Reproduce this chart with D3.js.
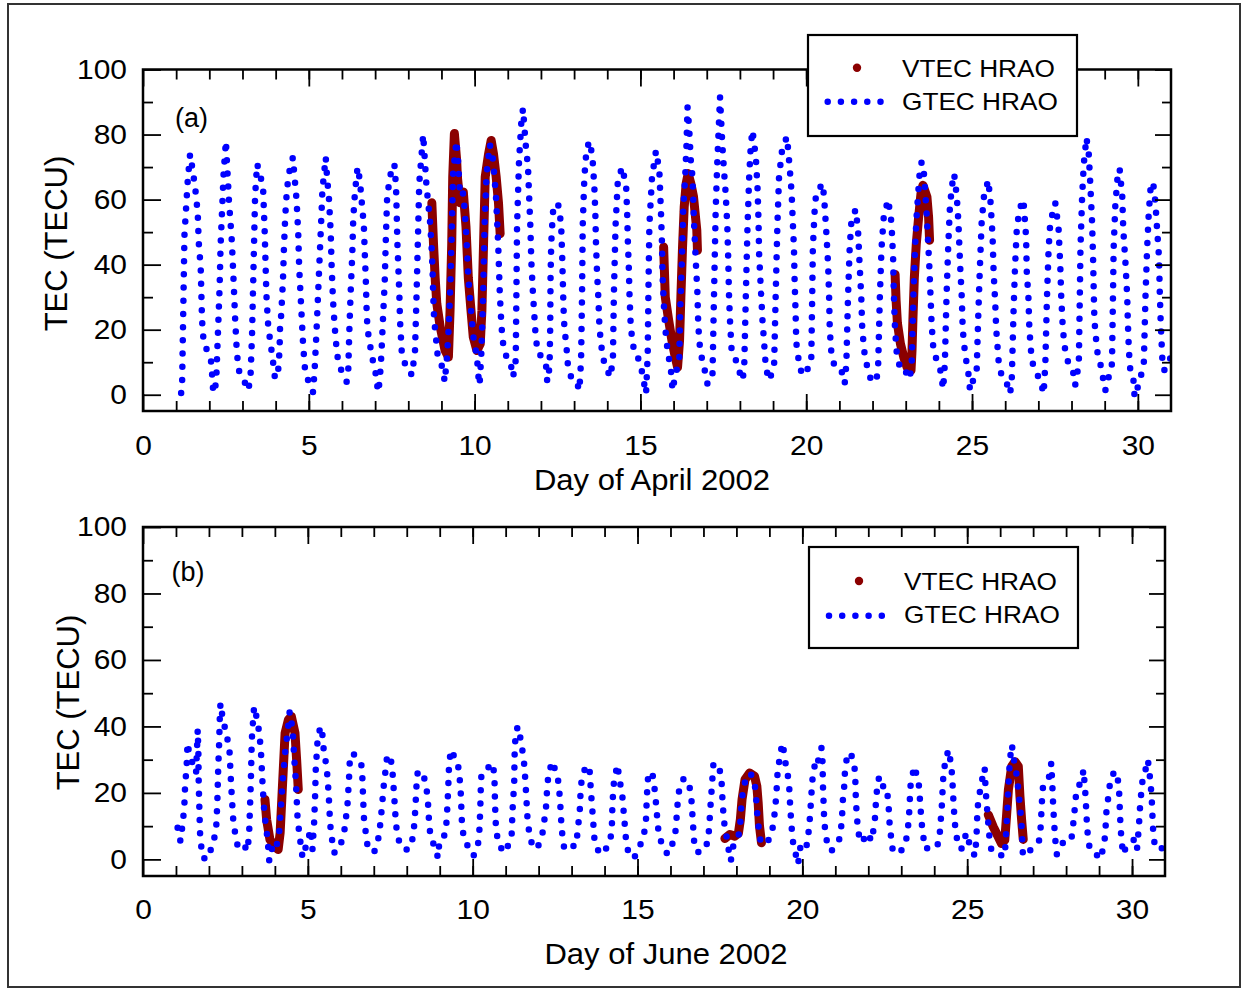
<!DOCTYPE html>
<html>
<head>
<meta charset="utf-8">
<script src="https://cdn.jsdelivr.net/npm/d3@7"></script>
<style>
  body { margin: 0; background: #fff; }
  svg text { font-family: "Liberation Sans", Arial, Helvetica, sans-serif; fill: #000; }
</style>
</head>
<body>
<div id="chart"></div>
<script>
// ---- data: [day, TEC] ----
var xMajor = [0, 5, 10, 15, 20, 25, 30];
var xMinor = d3.range(1, 31);
var yMajor = [0, 20, 40, 60, 80, 100];
var yMinor = [10, 30, 50, 70, 90];
var legendLabels = ["VTEC HRAO", "GTEC HRAO"];

var gtecApril = [
  [1.15,0.5],[1.18,4],[1.25,49],[1.35,66],[1.42,74],[1.5,69],[1.58,63],[1.65,56],[1.68,47],[1.74,39],[1.78,23],[1.83,16],[1.96,13],[2.06,10],[2.11,2],[2.16,0.5],
  [2.21,5],[2.26,19],[2.31,33],[2.34,46],[2.39,58],[2.43,68],[2.5,78],[2.53,72],[2.59,60],[2.68,47],[2.74,33],[2.78,23],[2.83,13],[2.89,7.5],[2.99,5.5],[3.06,4],[3.17,1.3],
  [3.24,5],[3.29,19],[3.35,47],[3.38,61],[3.44,71],[3.52,68],[3.62,64],[3.67,50],[3.72,31],[3.77,22],[3.84,16],[3.9,12],[3.94,8.5],[3.98,5],
  [4.07,6.5],[4.12,14],[4.13,20],[4.17,25],[4.22,35],[4.25,45],[4.29,55],[4.34,63],[4.4,68],[4.52,73],[4.57,67],[4.63,60],[4.68,50],[4.71,39],[4.76,29],[4.8,21],[4.83,15],[4.88,8.5],[4.98,4.4],[5.08,1.3],
  [5.13,0.8],[5.18,8.5],[5.23,19],[5.28,31],[5.33,43],[5.38,55],[5.41,63],[5.51,73],[5.55,67],[5.61,60],[5.66,50],[5.69,39],[5.73,29],[5.78,21],[5.83,15],[5.88,10.6],[5.98,7.5],[6.14,4],
  [6.19,7.5],[6.22,19],[6.26,31],[6.31,43],[6.34,54],[6.39,62],[6.47,70],[6.54,66],[6.59,60],[6.66,52],[6.69,43],[6.72,35],[6.74,27],[6.77,20],[6.84,16],[6.89,12],[6.99,8.5],[7.09,0.8],
  [7.14,4.4],[7.19,12.6],[7.24,24],[7.29,35],[7.32,47],[7.36,60],[7.44,67],[7.58,71],[7.63,64],[7.65,56],[7.67,47],[7.7,39],[7.73,31],[7.75,23],[7.8,13.6],[7.9,9.5],[8.0,9],[8.1,6],
  [8.2,12.6],[8.25,31],[8.3,52],[8.33,65],[8.45,80],[8.5,72],[8.55,64],[8.65,54],[8.7,46],[8.73,39],[8.75,31],[8.78,23],[8.83,18],[8.88,12.6],[8.95,11.6],[9.05,7],[9.1,4],
  [9.17,12],[9.22,21],[9.27,34],[9.31,50],[9.35,68],[9.45,78],[9.5,72],[9.56,61],[9.66,62],[9.74,51],[9.81,36],[9.89,26],[9.96,18],[10.07,11.6],[10.12,5],[10.15,3],
  [10.2,12],[10.25,28],[10.3,52],[10.36,68],[10.46,77],[10.56,72],[10.65,60],[10.71,46.5],[10.76,31],[10.81,21],[10.86,15.7],[10.96,11.6],[11.06,11],[11.16,5.4],
  [11.24,10.6],[11.26,31],[11.28,52],[11.34,72],[11.41,84],[11.46,88],[11.54,77],[11.61,70],[11.64,62],[11.68,52],[11.71,41],[11.76,31],[11.81,23],[11.84,18],[11.91,12.6],[12.01,12],[12.16,8.5],[12.19,4],
  [12.26,8.5],[12.28,21],[12.29,36],[12.31,46.5],[12.36,56],[12.46,59],[12.54,58],[12.61,52],[12.64,43],[12.66,35],[12.68,27],[12.71,20],[12.76,16],[12.81,9.5],[12.91,5.4],[13.06,4.4],[13.16,1.3],
  [13.21,10.6],[13.24,31],[13.26,52],[13.31,67],[13.38,76],[13.48,78],[13.56,72],[13.61,64],[13.64,56],[13.66,46.5],[13.69,38],[13.73,30],[13.76,22],[13.79,18],[13.86,11.6],[13.96,8.5],[14.09,5.4],
  [14.17,10.6],[14.2,31],[14.25,52],[14.32,66],[14.45,70],[14.57,64],[14.6,56],[14.62,47.5],[14.65,39],[14.67,31],[14.7,23],[14.74,18],[14.82,12.6],[14.92,11.6],[15.02,8.5],[15.17,0.3],
  [15.22,12.6],[15.24,31],[15.27,52],[15.35,67],[15.47,75],[15.57,69],[15.62,56],[15.65,46.5],[15.67,36],[15.72,25],[15.77,18],[15.82,13.6],[15.92,7.5],[15.97,1.3],
  [16.05,6],[16.17,10.6],[16.2,26],[16.25,41],[16.29,57],[16.35,67],[16.39,77],[16.42,88.5],[16.47,82],[16.52,72],[16.57,67],[16.62,52],[16.67,41],[16.72,31],[16.74,23],[16.77,17],[16.82,12.6],[16.92,8.5],[17.02,3.4],
  [17.17,4.4],[17.22,31],[17.27,57],[17.32,72],[17.37,84],[17.4,91.6],[17.47,77],[17.52,69],[17.57,62],[17.62,52],[17.65,41],[17.67,31],[17.7,23],[17.75,13.6],[17.85,11.6],[17.97,7.5],[18.08,4.4],
  [18.13,8.5],[18.18,31],[18.23,52],[18.28,67],[18.33,77],[18.38,81.3],[18.48,73],[18.53,64],[18.56,54],[18.58,43],[18.63,33],[18.68,23],[18.73,16],[18.78,8.5],[18.88,4.4],
  [19.03,8.5],[19.08,31],[19.13,52],[19.18,67],[19.28,76],[19.42,79.3],[19.5,70],[19.56,62],[19.6,52],[19.63,45],[19.65,35],[19.68,25],[19.7,16],[19.8,8.5],[19.9,5.9],
  [20.15,9.5],[20.18,30],[20.2,45],[20.25,56],[20.3,62],[20.5,65],[20.55,59],[20.6,51],[20.66,40],[20.69,30],[20.71,20],[20.76,12.6],[20.86,8.5],[21.06,7.5],[21.16,3.4],
  [21.21,9.5],[21.26,30],[21.31,45],[21.36,53],[21.49,57],[21.56,51],[21.61,40],[21.66,30],[21.69,20],[21.76,12.6],[21.86,7.5],[21.97,4],[22.12,4.4],
  [22.17,9.5],[22.22,30],[22.27,45],[22.34,55],[22.47,60],[22.57,53],[22.62,42],[22.64,32],[22.67,22],[22.72,13.6],[22.82,8.5],[22.92,6.5],[23.05,7],[23.12,5],
  [23.18,9.5],[23.23,30],[23.28,45],[23.33,55],[23.41,67],[23.48,71.6],[23.55,68],[23.63,56],[23.71,40],[23.75,30],[23.78,22],[23.83,14.7],[23.93,10.6],[24.03,8.5],[24.13,1.8],
  [24.18,9.5],[24.23,30],[24.28,45],[24.33,57],[24.39,64],[24.46,68],[24.54,61],[24.59,53],[24.64,40],[24.69,30],[24.72,20],[24.79,12.6],[24.89,6.5],[24.94,1.3],[25.05,5],
  [25.14,7.5],[25.19,25],[25.24,40],[25.29,53],[25.36,61],[25.49,66],[25.56,59],[25.62,48.5],[25.65,38],[25.7,28],[25.73,20],[25.8,10.6],[25.9,5.4],[26.05,3.4],[26.15,0.3],
  [26.2,5.4],[26.25,25],[26.3,40],[26.35,51],[26.43,57],[26.55,60],[26.63,48.5],[26.65,38],[26.7,30],[26.73,20],[26.8,10.6],[26.9,7.5],[27.06,4.4],[27.16,0.3],
  [27.21,9.5],[27.26,30],[27.31,45],[27.36,53],[27.51,59],[27.61,51],[27.66,40],[27.69,30],[27.74,20],[27.81,13.6],[27.91,9.5],[28.06,6.5],[28.11,2.9],
  [28.22,9.5],[28.25,30],[28.27,45],[28.32,61],[28.37,71],[28.45,79],[28.52,74],[28.57,64],[28.62,53],[28.65,42],[28.67,32],[28.69,23],[28.77,13.6],[28.87,9.5],[29.02,1.3],
  [29.22,9.5],[29.25,30],[29.27,45],[29.32,58],[29.38,66],[29.45,69.5],[29.53,61],[29.56,51],[29.63,40],[29.68,30],[29.7,22],[29.73,13.6],[29.78,6.5],[29.88,4],[29.9,-0.7],[30.05,4],
  [30.18,9.5],[30.23,30],[30.28,45],[30.33,56],[30.38,63],[30.46,65.4],[30.53,59],[30.58,51],[30.64,42],[30.66,32],[30.69,22],[30.74,10.6],[30.79,7.5],[30.89,8.5],[30.99,11.6]
];

var vtecApril1 = [[8.71,59],[8.76,46.5],[8.81,36],[8.86,28],[8.96,21],[9.11,13.6],[9.21,11.6],[9.26,26],[9.31,46.5],[9.34,67],[9.39,80.3],[9.46,72],[9.48,67],[9.56,59],[9.66,62.3],[9.74,51.6],[9.81,36],[9.89,26],[9.96,17.7],[10.07,13.6],[10.17,15.7],[10.22,26],[10.27,46.5],[10.32,67],[10.42,74],[10.5,78.2],[10.57,74],[10.65,67],[10.72,59],[10.77,49.5]];
var vtecApril2 = [[15.7,45.4],[15.75,30],[15.85,23],[15.95,16.7],[16.05,11.6],[16.12,8.5],[16.18,16.7],[16.22,30],[16.27,45.4],[16.32,57.7],[16.38,65],[16.44,68],[16.52,65],[16.6,61],[16.7,50.6],[16.72,44.4]];
var vtecApril3 = [[22.68,37],[22.71,29],[22.75,22],[22.84,15.7],[22.94,11.6],[23.04,8.5],[23.16,7.5],[23.19,13.6],[23.22,24],[23.26,36],[23.32,46.5],[23.39,54.6],[23.46,61.8],[23.52,64.4],[23.64,60.8],[23.69,54.6],[23.72,47.5]];

var gtecJune = [
  [1.05,9.5],[1.1,6],[1.15,5.5],[1.2,11],[1.25,15],[1.28,23],[1.32,27],[1.35,35],[1.4,32],[1.5,29],[1.61,26],[1.66,39],[1.68,32],[1.69,23],[1.71,15],[1.73,8],[1.76,4.5],[1.81,0.5],[1.96,0],[2.11,4.5],[2.19,7.5],
  [2.23,11],[2.26,19],[2.28,27],[2.31,35],[2.33,43],[2.35,47],[2.41,43],[2.52,38],[2.62,33.5],[2.67,23],[2.72,14.5],[2.75,10],[2.82,7],[2.87,4],[3.02,5],[3.17,2.5],
  [3.22,8],[3.27,23],[3.3,36],[3.37,46],[3.44,43],[3.53,38],[3.58,32],[3.63,22],[3.68,14],[3.73,10],[3.78,6],[3.83,-0.5],[3.93,4],[4.03,3],
  [4.13,8],[4.18,15],[4.23,23],[4.31,32],[4.38,38],[4.45,44.5],[4.54,39],[4.59,30],[4.64,23],[4.69,12],[4.74,8],[4.79,4],[4.84,0.5],[4.99,5.5],[5.09,9],[5.14,3],
  [5.19,11],[5.22,19],[5.24,27],[5.29,35],[5.36,39],[5.42,40],[5.49,32],[5.57,28],[5.63,20],[5.67,12],[5.7,8],[5.75,5],[5.8,2],[5.95,3],
  [6.1,8],[6.2,16],[6.25,24.5],[6.27,29],[6.35,32],[6.51,30.5],[6.64,28],[6.66,23],[6.69,15],[6.71,11],[6.76,8],[6.81,4],[6.91,3],[7.01,2],[7.06,4],
  [7.16,7],[7.24,15],[7.31,23],[7.36,27],[7.41,31.5],[7.52,30],[7.57,26],[7.62,19],[7.67,11],[7.72,7],[7.82,4],[7.92,3],[8.07,3],
  [8.2,7],[8.23,11],[8.26,15],[8.3,23],[8.33,26],[8.48,26.5],[8.59,22],[8.64,18],[8.66,14],[8.69,9.5],[8.74,6],[8.79,5],[8.89,3.5],[8.94,0.5],[8.99,5],[9.09,5.5],
  [9.19,9],[9.22,13.5],[9.24,17.5],[9.26,21.5],[9.27,25.5],[9.29,29],[9.34,33],[9.44,31],[9.55,29],[9.63,22],[9.65,17],[9.68,9.5],[9.75,6],[9.85,4],[10.02,1],
  [10.15,3.5],[10.2,8],[10.23,15],[10.25,23],[10.27,26],[10.35,26.5],[10.61,29],[10.66,25],[10.67,20],[10.69,13],[10.71,9],[10.76,6],[10.81,4],[10.99,2],
  [11.18,7],[11.21,15],[11.26,23],[11.27,31],[11.29,35.5],[11.36,40],[11.46,36],[11.52,32],[11.57,28],[11.62,20],[11.67,11],[11.72,8],[11.82,3.5],[11.97,3.5],
  [12.12,8],[12.22,15],[12.27,23],[12.32,26.5],[12.42,29.5],[12.53,26],[12.61,23],[12.66,16],[12.7,9],[12.78,3],[12.93,4],[13.13,4],
  [13.18,8],[13.25,15],[13.28,22],[13.33,25],[13.43,28],[13.54,28],[13.59,20],[13.64,13.5],[13.69,6.5],[13.74,4],[13.84,2],[13.94,1.5],[14.09,4],[14.16,5],
  [14.22,9],[14.24,17],[14.29,24],[14.34,26],[14.39,28.5],[14.44,25],[14.54,19],[14.6,12],[14.65,6],[14.7,3],[14.8,0.5],[14.9,0.5],[15.03,3],[15.15,6],
  [15.25,10],[15.28,18],[15.3,22],[15.33,26],[15.45,26],[15.51,22],[15.56,17],[15.61,11],[15.64,8],[15.71,5.5],[15.76,4],[15.91,1.5],[16.01,3.5],[16.11,6],
  [16.16,9],[16.21,16],[16.24,19.5],[16.29,22],[16.41,24.5],[16.57,22],[16.62,20],[16.65,16],[16.67,12.5],[16.72,5],[16.77,2.5],[16.92,2],[17.02,3],[17.12,5],
  [17.17,9],[17.22,17],[17.27,24],[17.29,28],[17.32,29],[17.47,28],[17.53,25],[17.56,22],[17.58,17],[17.63,11],[17.68,8],[17.73,5],[17.78,2],[17.83,-0.5],[17.88,3],[17.93,5],
  [18.1,8],[18.16,18],[18.25,23],[18.38,26],[18.5,25],[18.58,21],[18.63,14],[18.68,9],[18.74,5],[18.82,4.5],[18.95,5.5],[19.05,7],
  [19.09,9],[19.14,12],[19.19,17],[19.22,21],[19.24,25],[19.29,29],[19.34,32],[19.39,35],[19.45,32],[19.49,29],[19.55,26],[19.6,22],[19.62,18],[19.65,13],[19.68,9],[19.72,5],[19.8,1.5],[19.87,-1.5],[19.95,4.5],[20.05,3.5],[20.12,3.5],
  [20.2,9],[20.24,14],[20.27,19],[20.3,23],[20.32,26],[20.37,28],[20.42,30],[20.47,29],[20.53,33],[20.58,33.5],[20.61,30],[20.62,25],[20.63,20],[20.65,16],[20.66,12],[20.71,7],[20.78,4],[20.88,2.5],[20.98,4],[21.11,5.5],
  [21.18,10],[21.21,14],[21.23,18],[21.27,22],[21.29,26],[21.31,28.5],[21.39,32],[21.46,32],[21.54,30],[21.59,27],[21.61,23],[21.62,19],[21.64,15],[21.67,11],[21.72,7],[21.79,5],[21.89,6.5],[21.99,8],[22.09,5.5],
  [22.16,9],[22.21,13],[22.23,17],[22.26,20.5],[22.33,25],[22.4,23],[22.45,22],[22.55,22],[22.6,18],[22.63,14],[22.65,10],[22.7,6],[22.75,2],[22.85,2],[22.95,2.5],[23.05,3],
  [23.15,6],[23.2,9],[23.24,14],[23.26,18],[23.28,22],[23.34,25.5],[23.41,28],[23.48,24.5],[23.54,22],[23.58,16],[23.61,12],[23.64,9],[23.68,6],[23.76,3],[23.86,4.5],[23.96,5],[24.12,4.5],
  [24.17,8],[24.2,12],[24.23,16],[24.25,20],[24.27,24],[24.3,27.5],[24.37,30],[24.42,33],[24.47,31],[24.52,28],[24.55,24],[24.57,20],[24.59,16],[24.62,12],[24.65,8],[24.72,5],[24.82,3],[24.92,6],[24.97,8],[25.02,6],
  [25.23,1],[25.28,6],[25.3,12],[25.33,17],[25.38,20],[25.43,23],[25.5,26],[25.53,27.5],[25.55,23],[25.58,18],[25.63,12],[25.68,6],[25.73,3],[25.84,2],[25.99,1],[26.09,1.5],[26.14,1],
  [26.19,10],[26.22,15],[26.24,20],[26.26,24],[26.29,29],[26.32,32],[26.35,34.5],[26.4,32],[26.44,28],[26.49,26],[26.54,22],[26.59,17],[26.64,12],[26.67,6],[26.69,1],[26.79,2],[26.95,3],[27.1,4.5],
  [27.2,6],[27.23,10],[27.25,14],[27.27,18],[27.3,22],[27.35,23.5],[27.5,25],[27.55,29],[27.58,23],[27.6,18],[27.62,14],[27.65,9],[27.68,5],[27.72,1.5],[27.81,4],[27.91,5],[28.01,6],[28.16,6],
  [28.21,10],[28.25,14],[28.29,18],[28.31,21],[28.36,22],[28.46,23],[28.53,27],[28.56,23],[28.59,19],[28.61,15],[28.63,11],[28.66,7],[28.72,3],[28.82,2],[28.92,1.5],[29.02,0],[29.12,3],
  [29.17,6],[29.2,10],[29.22,14],[29.27,18],[29.32,22],[29.37,25],[29.45,26],[29.52,26.5],[29.57,24],[29.61,20],[29.63,15],[29.65,10],[29.68,6],[29.73,1.5],[29.83,4],[29.93,5],[30.08,6],[30.15,3],
  [30.21,10],[30.23,14],[30.26,18],[30.3,22],[30.33,25],[30.41,27],[30.48,30],[30.53,26],[30.57,22],[30.61,16],[30.63,10],[30.68,5],[30.78,3],[30.89,3],[30.94,4.5]
];

var vtecJune1 = [[3.7,18],[3.75,12],[3.85,6],[4.0,3.8],[4.1,3],[4.16,8],[4.21,18],[4.26,28],[4.31,38],[4.41,42],[4.5,43],[4.61,38],[4.66,30],[4.71,21]];
var vtecJune2 = [[17.65,6.3],[17.8,7.5],[17.95,7],[18.06,7.8],[18.12,12],[18.17,18],[18.26,24],[18.4,26],[18.55,25],[18.62,22],[18.66,17],[18.7,10],[18.76,5]];
var vtecJune3 = [[25.64,13.4],[25.79,9.8],[25.94,6.8],[26.04,4.8],[26.14,5.8],[26.2,14],[26.25,21],[26.35,28],[26.45,29.4],[26.55,28],[26.6,19],[26.65,12],[26.7,6]];

// ---- layout ----
var panels = [
  { box: {l: 143, t: 69.5, r: 1171, b: 411}, gtec: gtecApril, vtec: [vtecApril1, vtecApril2, vtecApril3],
    xTitle: "Day of April 2002", xTitleX: 652, xTitleY: 490, tickPad: 24, tag: "(a)", tagX: 175, tagY: 126.5,
    yTitleX: 67, yTitleY: 243.5,
    legend: {x: 808, y: 35, w: 269, h: 101, dotX: 857, dotY: 67.7, lineX1: 827.7, lineX2: 881, lineY: 101.7, textX: 902, t1Y: 76.7, t2Y: 110} },
  { box: {l: 143, t: 527, r: 1165, b: 876}, gtec: gtecJune, vtec: [vtecJune1, vtecJune2, vtecJune3],
    xTitle: "Day of June 2002", xTitleX: 666, xTitleY: 964, tickPad: 23, tag: "(b)", tagX: 171.5, tagY: 581,
    yTitleX: 78.5, yTitleY: 702.5,
    legend: {x: 809, y: 547, w: 269, h: 101, dotX: 859, dotY: 581, lineX1: 829, lineX2: 884.5, lineY: 615.7, textX: 904, t1Y: 590, t2Y: 623} }
];

var svg = d3.select("#chart").append("svg")
    .attr("width", 1242)
    .attr("height", 989)
    .style("display", "block")
    .style("background", "#fff");

svg.append("rect")
    .attr("x", 8).attr("y", 4).attr("width", 1232).attr("height", 983)
    .attr("fill", "none").attr("stroke", "#333").attr("stroke-width", 2);

var stretch = "scale(1.07,1)";
var blue = "#0000ff", darkRed = "#8b0000";

panels.forEach(function(p, i) {
  var x = d3.scaleLinear().domain([0, 31]).range([p.box.l, p.box.r]);
  var y = d3.scaleLinear().domain([-5, 100]).range([p.box.b, p.box.t]);
  var g = svg.append("g");

  var clipId = "clip" + i;
  svg.append("clipPath").attr("id", clipId).append("rect")
      .attr("x", p.box.l).attr("y", p.box.t)
      .attr("width", p.box.r - p.box.l).attr("height", p.box.b - p.box.t);

  var line = d3.line().x(function(d) { return x(d[0]); }).y(function(d) { return y(d[1]); });
  var data = g.append("g").attr("clip-path", "url(#" + clipId + ")");

  p.vtec.forEach(function(seg) {
    data.append("path")
        .attr("d", line(seg))
        .attr("fill", "none")
        .attr("stroke", darkRed)
        .attr("stroke-width", 9)
        .attr("stroke-linejoin", "round")
        .attr("stroke-linecap", "round");
  });

  data.append("path")
      .attr("d", line(p.gtec))
      .attr("fill", "none")
      .attr("stroke", blue)
      .attr("stroke-width", 6.5)
      .attr("stroke-linecap", "round")
      .attr("stroke-dasharray", "0 13.2");

  // ticks, all pointing inward
  function axis(fn, scale, values, size, tr, labels, pad) {
    var a = fn(scale).tickValues(values).tickSizeInner(-size).tickSizeOuter(0);
    if (labels) a.tickPadding(pad); else a.tickFormat("");
    var ag = g.append("g").attr("transform", tr).call(a);
    ag.select(".domain").remove();
    ag.selectAll("line").attr("stroke", "#000").attr("stroke-width", 1.8);
    ag.attr("font-size", 28).attr("font-family", null);
    ag.selectAll("text").attr("fill", "#000").attr("transform", stretch);
    return ag;
  }
  var bottom = "translate(0," + p.box.b + ")", top = "translate(0," + p.box.t + ")";
  var left = "translate(" + p.box.l + ",0)", right = "translate(" + p.box.r + ",0)";
  axis(d3.axisBottom, x, xMinor, 10, bottom, false);
  axis(d3.axisBottom, x, xMajor, 17, bottom, true, p.tickPad);
  axis(d3.axisTop, x, xMinor, 10, top, false);
  axis(d3.axisTop, x, xMajor, 17, top, false);
  axis(d3.axisLeft, y, yMinor, 10, left, false);
  axis(d3.axisLeft, y, yMajor, 18, left, true, 15);
  axis(d3.axisRight, y, yMinor, 9, right, false);
  axis(d3.axisRight, y, yMajor, 16, right, false);

  g.append("rect")
      .attr("x", p.box.l).attr("y", p.box.t)
      .attr("width", p.box.r - p.box.l).attr("height", p.box.b - p.box.t)
      .attr("fill", "none").attr("stroke", "#000").attr("stroke-width", 2.5);

  // titles
  g.append("text")
      .attr("transform", "translate(" + p.xTitleX + "," + p.xTitleY + ") " + stretch)
      .attr("text-anchor", "middle").attr("font-size", 29)
      .text(p.xTitle);
  g.append("text")
      .attr("transform", "translate(" + p.yTitleX + "," + p.yTitleY + ") rotate(-90)")
      .attr("text-anchor", "middle").attr("font-size", 31)
      .text("TEC (TECU)");
  g.append("text")
      .attr("x", p.tagX).attr("y", p.tagY)
      .attr("font-size", 27)
      .text(p.tag);

  // legend
  var L = p.legend;
  var lg = g.append("g");
  lg.append("rect")
      .attr("x", L.x).attr("y", L.y).attr("width", L.w).attr("height", L.h)
      .attr("fill", "#fff").attr("stroke", "#000").attr("stroke-width", 2.2);
  lg.append("circle")
      .attr("cx", L.dotX).attr("cy", L.dotY).attr("r", 4.2)
      .attr("fill", darkRed);
  lg.append("line")
      .attr("x1", L.lineX1).attr("x2", L.lineX2).attr("y1", L.lineY).attr("y2", L.lineY)
      .attr("stroke", blue).attr("stroke-width", 6.5)
      .attr("stroke-linecap", "round").attr("stroke-dasharray", "0 13.2");
  [L.t1Y, L.t2Y].forEach(function(ty, k) {
    lg.append("text")
        .attr("transform", "translate(" + L.textX + "," + ty + ") " + stretch)
        .attr("font-size", 24.5)
        .text(legendLabels[k]);
  });
});
</script>
</body>
</html>
